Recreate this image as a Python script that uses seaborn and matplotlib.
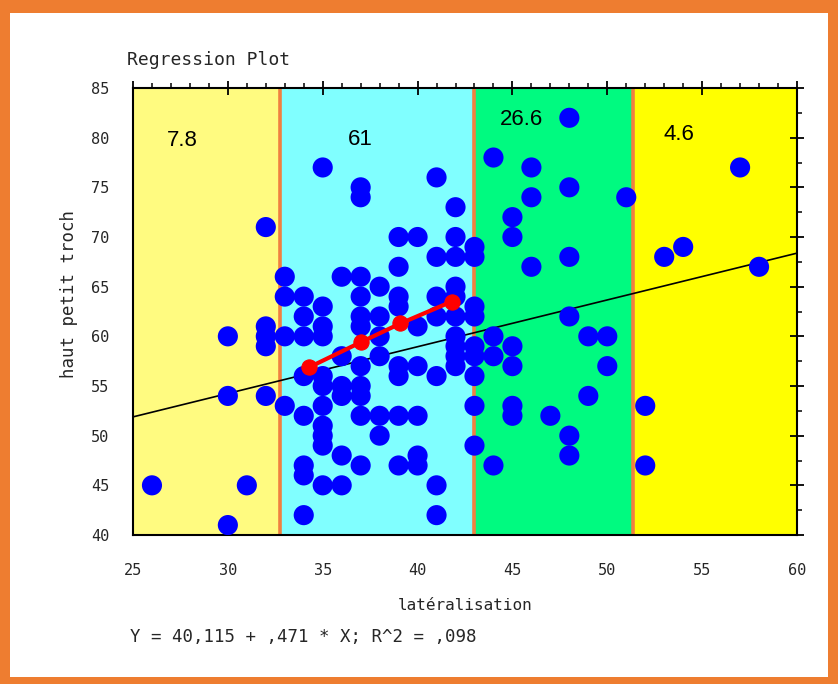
import numpy as np
import pandas as pd
import seaborn as sns
import matplotlib.pyplot as plt
from matplotlib.patches import Rectangle
from matplotlib.ticker import MultipleLocator

# points, one pair of lists per coloured zone
x_zone1 = [26, 30, 30, 30, 31, 32, 32, 32, 32, 32]
y_zone1 = [45, 41, 60, 54, 45, 71, 61, 60, 59, 54]

x_zone2 = ([33] * 4 + [34] * 8 + [35] * 11 + [36] * 6 + [37] * 11
           + [38] * 6 + [39] * 8 + [40] * 6 + [41] * 7 + [42] * 10)
y_zone2 = [66, 64, 60, 53,
           64, 62, 60, 56, 52, 47, 46, 42,
           77, 63, 61, 60, 56, 55, 53, 51, 50, 49, 45,
           66, 58, 55, 54, 48, 45,
           75, 74, 66, 64, 62, 61, 57, 55, 54, 52, 47,
           65, 62, 60, 58, 52, 50,
           70, 67, 64, 63, 57, 56, 52, 47,
           70, 61, 57, 52, 48, 47,
           76, 68, 64, 62, 56, 45, 42,
           73, 70, 68, 65, 64, 62, 60, 59, 58, 57]

x_zone3 = ([43] * 9 + [44] * 4 + [45] * 6 + [46] * 3 + [47]
           + [48] * 6 + [49] * 2 + [50] * 2 + [51])
y_zone3 = [69, 68, 63, 62, 59, 58, 56, 53, 49,
           78, 60, 58, 47,
           72, 70, 59, 57, 53, 52,
           77, 74, 67,
           52,
           82, 75, 68, 62, 50, 48,
           60, 54,
           60, 57,
           74]

x_zone4 = [52, 52, 53, 54, 57, 58]
y_zone4 = [53, 47, 68, 69, 77, 67]

# group means (red line)
mean_x = [34.3, 37.0, 39.1, 41.8]
mean_y = [56.9, 59.4, 61.3, 63.5]

# fitted line Y = 40,115 + ,471 * X
intercept = 40.115
slope = 0.471
fit_x = np.array([25, 60])

# zone limits, colours and percentages
zone_edges = [25, 32.75, 43.0, 51.35, 60]
zone_colors = ['#FFFB80', '#80FFFF', '#00FA80', '#FFFF00']
zone_pct = ['7.8', '61', '26.6', '4.6']
pct_x = [27.6, 37.0, 45.5, 53.8]
pct_y = [79.7, 79.8, 81.8, 80.3]

df = pd.DataFrame({
    'lat': x_zone1 + x_zone2 + x_zone3 + x_zone4,
    'haut': y_zone1 + y_zone2 + y_zone3 + y_zone4,
})

sns.set_style('white')
plt.rcParams['font.family'] = ['DejaVu Sans Mono', 'DejaVu Sans']

fig = plt.figure(figsize=(8.38, 6.84), dpi=100)
fig.patch.set_facecolor('#EE7D30')
fig.patches.append(Rectangle((10 / 838, 7 / 684), 818 / 838, 664 / 684,
                             transform=fig.transFigure, facecolor='white',
                             edgecolor='none', zorder=-1))

ax = fig.add_axes([133 / 838, 1 - 535 / 684, 664 / 838, 447 / 684])

for i in range(4):
    ax.axvspan(zone_edges[i], zone_edges[i + 1], color=zone_colors[i], zorder=0, lw=0)
for e in zone_edges[1:4]:
    ax.axvline(e, color='#F08040', linewidth=2.6, zorder=1)

for t, px, py in zip(zone_pct, pct_x, pct_y):
    ax.text(px, py, t, ha='center', va='center', fontsize=16,
            family='Liberation Sans', color='black', zorder=2)

sns.lineplot(x=fit_x, y=intercept + slope * fit_x, color='black',
             linewidth=1.2, ax=ax, zorder=2)
sns.scatterplot(data=df, x='lat', y='haut', color='#0000FF', s=210,
                marker='o', edgecolor='none', ax=ax, zorder=3)
sns.lineplot(x=mean_x, y=mean_y, color='#FF0000', linewidth=3, marker='o',
             markersize=11, markeredgecolor='#FF0000', ax=ax, zorder=4)

ax.set_xlim(25, 60)
ax.set_ylim(40, 85)
ax.xaxis.set_major_locator(MultipleLocator(5))
ax.xaxis.set_minor_locator(MultipleLocator(1))
ax.yaxis.set_major_locator(MultipleLocator(5))
ax.yaxis.set_minor_locator(MultipleLocator(2.5))
ax.tick_params(which='major', direction='inout', length=10, width=1.3,
               top=True, right=True, labelsize=11, color='black')
ax.tick_params(which='minor', direction='out', length=3.5, width=1.1,
               top=True, right=True, color='black')
ax.tick_params(axis='x', which='major', pad=15)
ax.tick_params(axis='y', which='major', pad=12)
for s in ax.spines.values():
    s.set_color('black')
    s.set_linewidth(1.5)

ax.set_xlabel('latéralisation', fontsize=11.5)
ax.set_ylabel('haut petit troch', fontsize=12.5)
ax.xaxis.set_label_coords(0.5, -0.14)
ax.yaxis.set_label_coords(-0.083, 0.54)

fig.text(127 / 838, 1 - 60 / 684, 'Regression Plot', ha='left', va='center',
         fontsize=13)
fig.text(130 / 838, 1 - 637 / 684, 'Y = 40,115 + ,471 * X; R^2 = ,098',
         ha='left', va='center', fontsize=12.5)

fig.savefig('out.png', dpi=100)
